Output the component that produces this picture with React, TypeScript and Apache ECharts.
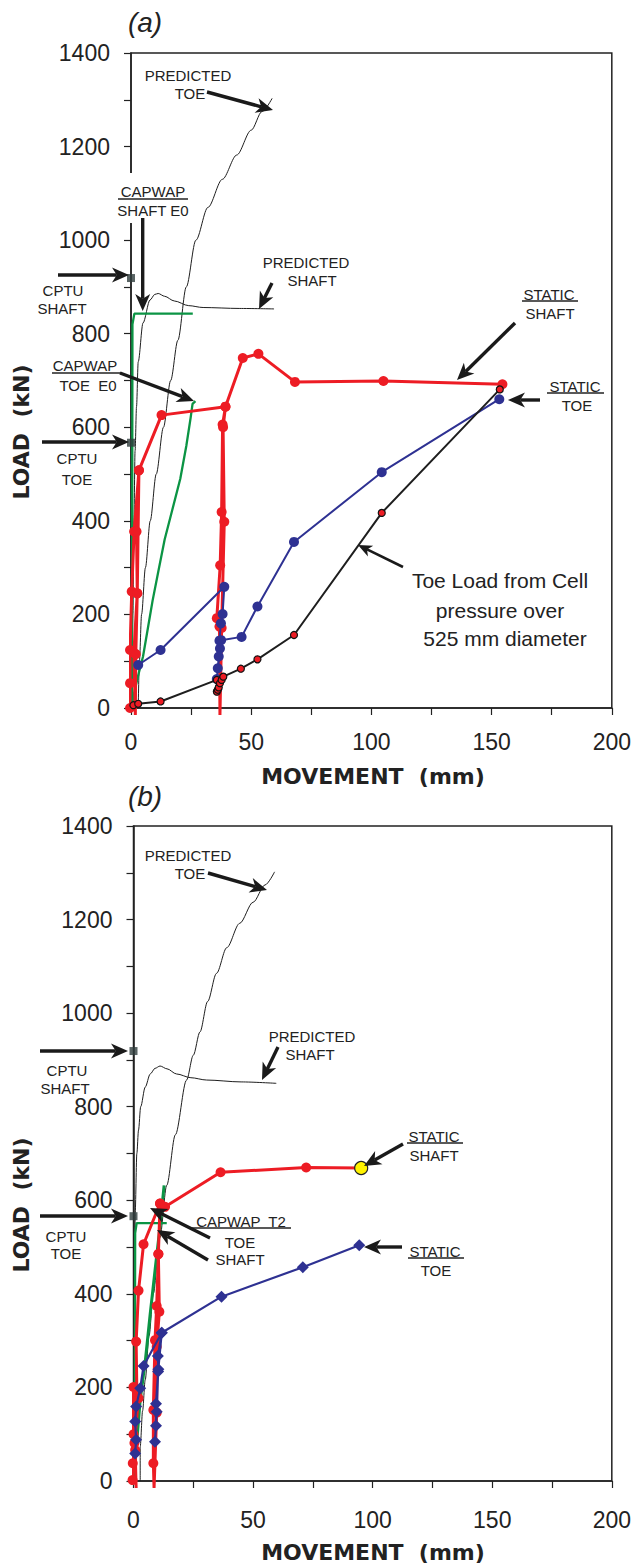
import React, { useEffect, useRef } from "react";
import * as echarts from "echarts";

// ---------- axis ranges ----------
const movementRange = [0, 200];
const movementStep = 50;
const loadRange = [0, 1400];
const loadStep = 200;

// ---------- chart (a) ----------
const predictedToeA = [[3, 0], [3.5, 100], [4.4, 200], [6, 300], [8, 400], [10.5, 500], [13.5, 600], [16.5, 700], [19.5, 786], [23, 900], [27, 1000], [32, 1070], [38, 1130], [44, 1182], [50, 1235], [54.5, 1275], [58.7, 1303]];
const predictedShaftA = [[0.5, 0], [0.8, 200], [1.2, 400], [1.7, 550], [2.3, 644], [3, 740], [5, 823], [7.9, 872], [9.9, 884], [11.3, 886], [14, 880], [18, 870], [24, 860], [30, 856], [45, 854], [59.5, 853]];
const capwapShaftA = [[0.3, 0], [0.5, 400], [0.6, 820], [1.4, 843], [25.7, 843]];
const capwapToeA = [[0.3, 0], [1, 25], [3, 70], [5, 110], [7, 170], [9, 230], [11.3, 290], [14, 360], [17, 420], [20.5, 490], [23, 560], [24.8, 620], [25.6, 650], [26.8, 656]];
const cptuShaftA = [[0, 919]];
const cptuToeA = [[0, 567]];
const staticShaftA = [[-0.4, 0], [-0.4, 53], [-0.4, 124], [0.3, 249], [1.3, 377], [3.3, 508], [2.6, 245], [1.2, 118], [1.8, -15], [2.0, 115], [2.6, 245], [2.3, 377], [3.3, 508], [12.7, 626], [39.3, 644], [38.1, 606], [37.7, 419], [37.1, 305], [35.7, 192], [36.8, 174], [37, -15], [37.7, 171], [38.8, 398], [38.3, 600], [39.3, 644], [46.5, 748], [53, 757], [68.2, 697], [105, 699], [154.5, 692]];
const staticToeA = [[3, 92], [12.3, 124], [38.8, 259], [38.1, 201], [37.4, 181], [36.8, 144], [37, 127], [36.5, 110], [36.1, 85], [35.7, 62], [37.5, 145], [46, 152], [52.6, 217], [67.8, 355], [104.3, 504], [153.2, 660]];
const cellToeA = [[-0.4, 3], [1, 6], [3, 9], [12.3, 14], [35.7, 60], [35.7, 35], [36.1, 39], [36.5, 44], [37, 53], [37.7, 60], [38.4, 67], [45.7, 84], [52.6, 104], [67.8, 156], [104.3, 417], [153.4, 681]];

// ---------- chart (b) ----------
const predictedToeB = [[2.8, 0], [2.8, 73], [3.8, 150], [4.9, 216], [6.5, 310], [8.3, 401], [11, 520], [13.9, 632], [17.5, 740], [22.2, 857], [25, 910], [27.8, 960], [31, 1025], [34.7, 1085], [39, 1140], [44.4, 1192], [50, 1237], [55, 1274], [59, 1302]];
const predictedShaftB = [[0.3, 0], [0.5, 300], [0.7, 572], [1.4, 700], [2.1, 750], [3, 800], [4.9, 842], [7, 870], [9, 882], [11.1, 887], [14, 881], [18, 870], [24, 862], [30.6, 857], [45, 853], [59.7, 850]];
const capwapShaftB = [[0.5, 0], [0.7, 530], [1.3, 551], [13.9, 551]];
const capwapToeB = [[0.5, 0], [0.8, 50], [2.8, 173], [5, 260], [7, 358], [9, 450], [11, 540], [12.8, 632]];
const cptuShaftB = [[0, 919]];
const cptuToeB = [[0, 566]];
const staticShaftB = [[-0.4, 2], [-0.3, 38], [0, 100], [0, 201], [1.1, -15], [0.7, 66], [0.4, 81], [2.1, 177], [1.4, 191], [1.1, 298], [2.1, 407], [4.2, 506], [11.1, 593], [10.4, 485], [9.7, 374], [9, 301], [8.3, 152], [8.3, 38], [8.6, -15], [9.7, 146], [9.7, 287], [10.8, 362], [10.4, 485], [11.1, 593], [13.2, 586], [36.4, 660], [72.2, 670], [95.2, 669]];
const staticToeB = [[0.7, 59], [1.1, 88], [0.7, 127], [1.1, 159], [2.8, 198], [4.2, 246], [11.8, 317], [10.2, 267], [10.4, 239], [9.4, 165], [9.4, 118], [9, 84], [9.7, 148], [10.3, 234], [11.8, 317], [36.8, 394], [70.8, 457], [94.4, 504]];

const RED = "#ed1c24";
const BLUE = "#2e3192";
const GREEN = "#0b9444";
const INK = "#1e1e1e";
const FONT = '"Liberation Sans", Arial, sans-serif';
const BOLDFONT = '"DejaVu Sans", "Liberation Sans", sans-serif';

function pts(data: number[][], lastYellow = false) {
  return data.map((d, i) => {
    const item: any = { value: d };
    if (d[1] < 0) item.symbol = "none";
    if (lastYellow && i === data.length - 1) {
      item.symbolSize = 13;
      item.itemStyle = { color: "#fff200", borderColor: "#222", borderWidth: 1.2 };
    }
    return item;
  });
}

function thin(data: number[][], g: number) {
  return {
    type: "line", xAxisIndex: g, yAxisIndex: g, data, showSymbol: false, symbol: "none",
    smooth: 0.3, smoothMonotone: "x",
    lineStyle: { color: INK, width: 1 }, z: 2,
  };
}
function green(data: number[][], g: number, w = 2.3) {
  return {
    type: "line", xAxisIndex: g, yAxisIndex: g, data, showSymbol: false, symbol: "none",
    lineStyle: { color: GREEN, width: w }, z: 3,
  };
}
function cptu(data: number[][], g: number) {
  return {
    type: "scatter", xAxisIndex: g, yAxisIndex: g, data, symbol: "rect", symbolSize: 8,
    itemStyle: { color: "#2f3d3d" }, z: 6,
  };
}

// ---------- annotation helpers (pixel positions) ----------
function txt(text: string, x: number, y: number, size = 15, extra: any = {}) {
  const fam = extra.family || FONT;
  return {
    type: "text", x, y, z: 100,
    style: {
      text, x: 0, y: 0, fill: "#222", font: `${extra.font || ""} ${size}px ${fam}`.trim(),
      align: extra.align || "center", textAlign: extra.align || "center",
      verticalAlign: "middle", textVerticalAlign: "middle",
    },
    rotation: extra.rotation || 0,
  };
}
function uline(x1: number, x2: number, y: number) {
  return { type: "line", z: 100, shape: { x1, y1: y, x2, y2: y }, style: { stroke: "#222", lineWidth: 1.3 } };
}
function arrow(x1: number, y1: number, x2: number, y2: number, w = 3.4, L = 17, H = 7.5) {
  const dx = x2 - x1, dy = y2 - y1;
  const len = Math.hypot(dx, dy);
  const ux = dx / len, uy = dy / len;
  const bx = x2 - ux * L, by = y2 - uy * L;
  const px = -uy, py = ux;
  const nx = x2 - ux * L * 0.72, ny = y2 - uy * L * 0.72;
  return [
    { type: "line", z: 100, shape: { x1, y1, x2: nx, y2: ny }, style: { stroke: "#1a1a1a", lineWidth: w } },
    {
      type: "polygon", z: 100,
      shape: { points: [[x2, y2], [bx + px * H, by + py * H], [nx, ny], [bx - px * H, by - py * H]] },
      style: { fill: "#1a1a1a" },
    },
  ];
}

function axesFor(g: number, xMargin: number) {
  const common = {
    gridIndex: g, type: "value",
    axisLine: { show: true, lineStyle: { color: "#222", width: 1.5 } },
    axisTick: { show: true, inside: false, length: 7, lineStyle: { color: "#222", width: 1.2 } },
    minorTick: { show: true, splitNumber: 2, length: 7, lineStyle: { color: "#222", width: 1.2 } },
    splitLine: { show: false },
    minorSplitLine: { show: false },
  };
  return {
    x: {
      ...common, min: movementRange[0], max: movementRange[1], interval: movementStep,
      axisLabel: { fontSize: 23, fontFamily: FONT, color: "#222", margin: xMargin, formatter: (v: number) => String(v) },
    },
    y: {
      ...common, min: loadRange[0], max: loadRange[1], interval: loadStep,
      axisLabel: { fontSize: 23, fontFamily: FONT, color: "#222", margin: 21, formatter: (v: number) => String(v) },
    },
  };
}

export default function App() {
  const ref = useRef<HTMLDivElement>(null);
  useEffect(() => {
    if (!ref.current) return;
    const chart = echarts.init(ref.current, undefined, { renderer: "svg" });
    const a = axesFor(0, 22);
    const b = axesFor(1, 27);
    const dB = 773; // vertical offset of panel (b) annotations

    const graphics: any[] = [
      // ---- panel (a) ----
      txt("(a)", 145, 22, 28, { font: "italic" }),
      txt("LOAD  (kN)", 21, 432, 22, { font: "bold", family: BOLDFONT, rotation: Math.PI / 2 }),
      txt("MOVEMENT  (mm)", 373, 776, 22, { font: "bold", family: BOLDFONT }),
      txt("PREDICTED", 188, 75), txt("TOE", 190, 93),
      ...arrow(207, 92, 273, 110),
      { type: "rect", z: 99, shape: { x: 112, y: 173, width: 84, height: 50 }, style: { fill: "#fff" } },
      txt("CAPWAP", 153, 191), uline(118, 188, 199), txt("SHAFT E0", 153, 210),
      ...arrow(142.7, 218, 142.7, 311),
      txt("CPTU", 63, 290), txt("SHAFT", 62, 308),
      ...arrow(58, 275, 129, 275),
      txt("PREDICTED", 306, 262), txt("SHAFT", 312, 280),
      ...arrow(272, 283, 259, 309),
      txt("CAPWAP", 85, 365), uline(52, 122, 373), txt("TOE  E0", 88, 385),
      ...arrow(120, 373, 194, 401),
      txt("CPTU", 77, 458), txt("TOE", 77, 479),
      ...arrow(42, 442, 129, 442),
      txt("STATIC", 549, 294), uline(522, 578, 301), txt("SHAFT", 550, 313),
      ...arrow(515, 323, 457, 380),
      txt("STATIC", 575, 386), uline(547, 604, 393), txt("TOE", 577, 405),
      ...arrow(540, 400, 508, 400),
      txt("Toe Load from Cell", 500, 580, 21), txt("pressure over", 500, 610, 21), txt("525 mm diameter", 505, 638, 21),
      ...arrow(403, 567, 358, 545, 2.6, 14, 6),

      // ---- panel (b) ----
      txt("(b)", 145, 796, 28, { font: "italic" }),
      txt("LOAD  (kN)", 21, 432 + dB, 22, { font: "bold", family: BOLDFONT, rotation: Math.PI / 2 }),
      txt("MOVEMENT  (mm)", 373, 1552, 22, { font: "bold", family: BOLDFONT }),
      txt("PREDICTED", 188, 855), txt("TOE", 190, 873),
      ...arrow(208, 873, 267, 890),
      txt("PREDICTED", 312, 1036), txt("SHAFT", 310, 1054),
      ...arrow(278, 1047, 262, 1080),
      txt("CPTU", 67, 1070), txt("SHAFT", 65, 1088),
      ...arrow(40, 1051, 128, 1051),
      txt("CPTU", 66, 1236), txt("TOE", 66, 1253),
      ...arrow(40, 1216, 128, 1216),
      txt("CAPWAP  T2", 241, 1221), uline(192, 291, 1228), txt("TOE", 240, 1242), txt("SHAFT", 240, 1259),
      ...arrow(210, 1238, 150, 1208),
      ...arrow(208, 1260, 157, 1230),
      txt("STATIC", 434, 1136), uline(407, 463, 1143), txt("SHAFT", 434, 1155),
      ...arrow(403, 1144, 364, 1166),
      txt("STATIC", 435, 1251), uline(408, 464, 1258), txt("TOE", 436, 1270),
      ...arrow(402, 1247, 364, 1247),
    ];

    chart.setOption({
      animation: false,
      backgroundColor: "#fff",
      textStyle: { fontFamily: FONT },
      grid: [
        { left: 131, right: 20, top: 53, height: 655, show: true, borderColor: "#222", borderWidth: 1.5, backgroundColor: "transparent" },
        { left: 133.5, right: 20, top: 826, height: 655, show: true, borderColor: "#222", borderWidth: 1.5, backgroundColor: "transparent" },
      ],
      xAxis: [a.x, b.x],
      yAxis: [a.y, b.y],
      series: [
        // (a)
        thin(predictedToeA, 0),
        thin(predictedShaftA, 0),
        green(capwapShaftA, 0),
        green(capwapToeA, 0),
        cptu(cptuShaftA, 0),
        cptu(cptuToeA, 0),
        {
          type: "line", xAxisIndex: 0, yAxisIndex: 0, data: pts(staticShaftA), clip: false,
          symbol: "circle", symbolSize: 10, lineStyle: { color: RED, width: 3 }, itemStyle: { color: RED }, z: 4,
        },
        {
          type: "line", xAxisIndex: 0, yAxisIndex: 0, data: pts(staticToeA),
          symbol: "circle", symbolSize: 10, lineStyle: { color: BLUE, width: 2 }, itemStyle: { color: BLUE }, z: 5,
        },
        {
          type: "line", xAxisIndex: 0, yAxisIndex: 0, data: pts(cellToeA),
          symbol: "circle", symbolSize: 7, lineStyle: { color: INK, width: 2 },
          itemStyle: { color: RED, borderColor: "#111", borderWidth: 1.2 }, z: 7,
        },
        // (b)
        thin(predictedToeB, 1),
        thin(predictedShaftB, 1),
        green(capwapShaftB, 1),
        green(capwapToeB, 1, 3),
        cptu(cptuShaftB, 1),
        cptu(cptuToeB, 1),
        {
          type: "line", xAxisIndex: 1, yAxisIndex: 1, data: pts(staticShaftB, true), clip: false,
          symbol: "circle", symbolSize: 10, lineStyle: { color: RED, width: 3 }, itemStyle: { color: RED }, z: 4,
        },
        {
          type: "line", xAxisIndex: 1, yAxisIndex: 1, data: pts(staticToeB),
          symbol: "diamond", symbolSize: 12, lineStyle: { color: BLUE, width: 2.2 }, itemStyle: { color: BLUE }, z: 5,
        },
      ],
      graphic: graphics,
    });
    return () => chart.dispose();
  }, []);
  return <div ref={ref} style={{ position: "absolute", left: 0, top: 0, width: 634, height: 1564, background: "#fff" }} />;
}
